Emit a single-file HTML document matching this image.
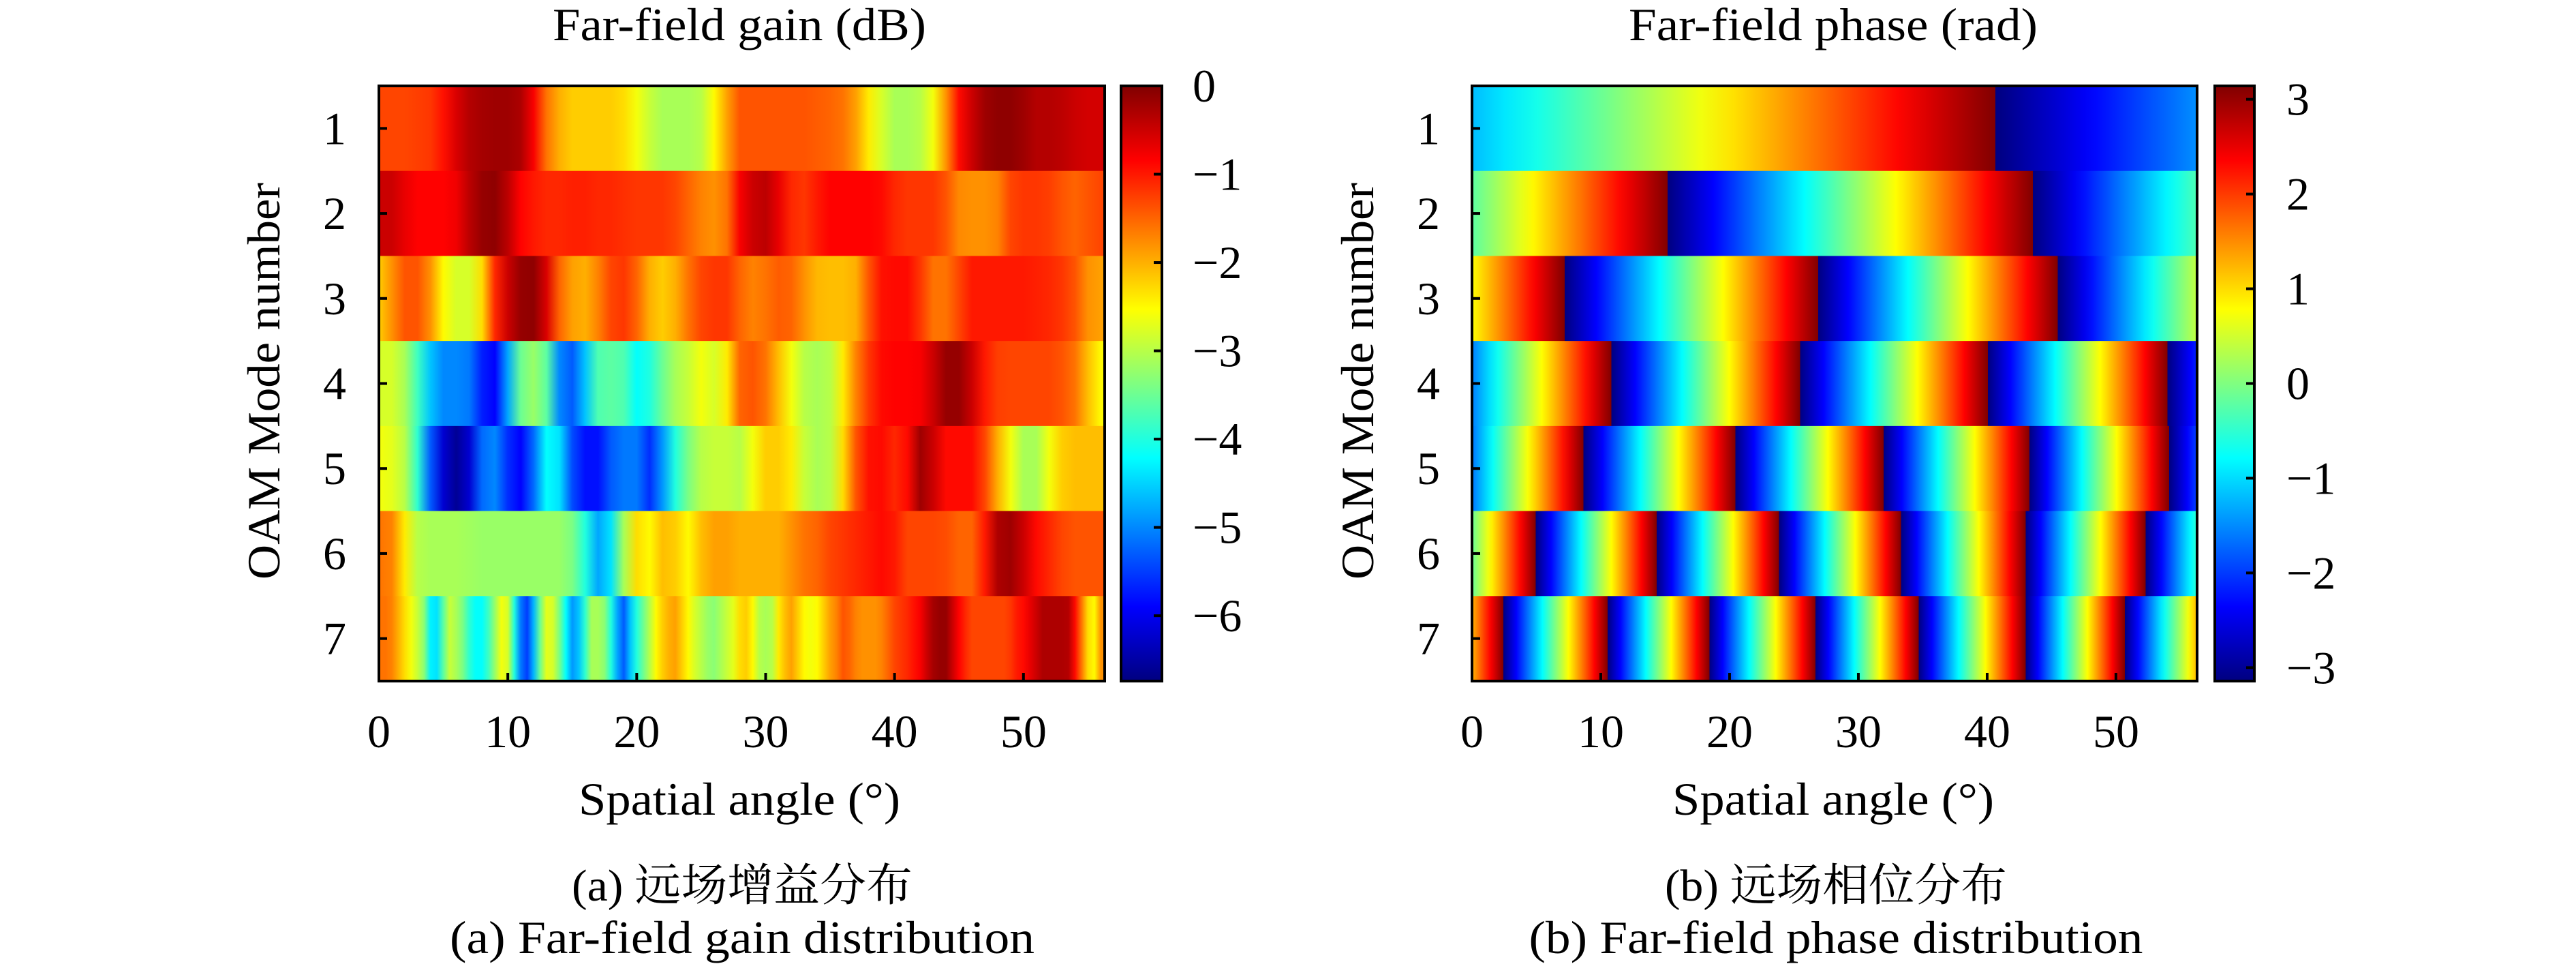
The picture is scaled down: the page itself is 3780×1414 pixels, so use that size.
<!DOCTYPE html>
<html><head><meta charset="utf-8">
<style>
html,body{margin:0;padding:0;background:#fff;}
svg{display:block;}
text{font-family:"Liberation Serif","Noto Serif CJK SC",serif;fill:#000;}
</style></head>
<body>
<svg id="fig" width="3780" height="1414" viewBox="0 0 3780 1414" xmlns="http://www.w3.org/2000/svg">
<defs id="defs"></defs>
<g id="gainPanel"></g>
<g id="phasePanel"></g>
</svg>
<script>
// ---------- data ----------
const modeNumbers = [1,2,3,4,5,6,7];
const xTicks = [0,10,20,30,40,50];
const gainCbarTicks = [0,-1,-2,-3,-4,-5,-6];
const phaseCbarTicks = [3,2,1,0,-1,-2,-3];
const gainRange = [-6.74, 0];
const phaseRange = [-Math.PI, Math.PI];
const angleMax = 56.3;
const gainStep = [1,1,1,1,1,1,0.5];
const gainRow1 = [-1.3,-1.3,-1.3,-1.25,-1.2,-0.95,-0.6,-0.35,-0.25,-0.2,-0.2,-0.3,-0.8,-1.6,-2.0,-2.2,-2.2,-2.2,-2.2,-2.3,-2.6,-2.9,-3.1,-3.1,-3.1,-3.0,-2.5,-1.9,-1.4,-1.4,-1.4,-1.4,-1.4,-1.4,-1.45,-1.5,-1.6,-1.9,-2.4,-2.8,-3.1,-3.1,-3.0,-2.6,-1.8,-0.9,-0.5,-0.2,-0.1,-0.1,-0.2,-0.35,-0.35,-0.4,-0.5,-0.55,-0.55];
const gainRow2 = [-0.5,-0.5,-0.7,-0.85,-0.85,-0.85,-0.75,-0.4,-0.15,-0.1,-0.4,-0.85,-1.0,-1.1,-1.1,-1.05,-1.05,-1.1,-1.1,-1.15,-1.2,-1.2,-1.2,-1.3,-1.5,-1.7,-1.8,-1.6,-0.8,-0.5,-0.4,-0.7,-1.1,-1.2,-1.0,-0.85,-0.85,-0.85,-0.85,-0.9,-1.1,-1.2,-1.2,-1.2,-1.4,-1.75,-1.8,-1.8,-1.7,-1.3,-1.2,-1.2,-1.25,-1.4,-1.5,-1.4,-1.3];
const gainRow3 = [-2.2,-1.8,-1.4,-1.4,-1.8,-2.5,-2.8,-2.8,-2.3,-1.1,-0.5,-0.15,-0.1,-0.6,-1.5,-1.9,-2.0,-1.7,-1.3,-1.2,-1.5,-2.0,-2.2,-2.0,-1.6,-1.3,-1.2,-1.2,-1.5,-1.7,-1.6,-1.45,-1.5,-1.8,-2.05,-2.1,-2.1,-2.0,-1.4,-0.95,-0.9,-0.9,-1.2,-1.6,-1.6,-1.3,-1.0,-1.0,-1.0,-1.0,-1.0,-1.05,-1.1,-1.2,-1.4,-1.8,-1.9];
const gainRow4 = [-2.8,-2.8,-3.1,-3.8,-4.6,-5.0,-5.0,-5.1,-5.7,-5.9,-4.8,-3.5,-3.2,-3.6,-5.0,-5.3,-4.6,-3.7,-3.6,-3.7,-4.2,-4.0,-3.5,-3.1,-2.9,-2.6,-2.8,-2.4,-1.5,-1.4,-1.6,-2.1,-2.6,-3.0,-3.1,-3.0,-2.4,-1.7,-1.2,-0.9,-0.85,-0.85,-0.8,-0.5,-0.15,-0.15,-0.5,-1.0,-1.25,-1.3,-1.3,-1.3,-1.3,-1.4,-1.6,-2.1,-2.5];
const gainRow5 = [-2.6,-2.7,-3.0,-3.9,-5.3,-6.2,-6.6,-6.2,-5.2,-5.0,-5.6,-5.9,-5.2,-4.2,-4.4,-5.4,-5.8,-5.8,-5.3,-5.1,-5.1,-5.6,-4.9,-4.0,-3.4,-3.0,-2.9,-2.9,-3.0,-2.6,-2.2,-2.2,-2.4,-2.9,-3.1,-3.0,-2.3,-1.4,-0.95,-0.9,-1.1,-0.9,-0.2,-0.5,-0.9,-0.9,-0.9,-1.3,-2.0,-2.6,-3.1,-3.1,-2.6,-2.2,-2.1,-2.1,-2.1];
const gainRow6 = [-1.6,-1.7,-2.4,-3.0,-3.1,-3.1,-3.1,-3.15,-3.2,-3.2,-3.2,-3.2,-3.2,-3.2,-3.2,-3.4,-4.0,-4.8,-4.4,-3.1,-2.3,-2.5,-2.1,-2.2,-2.5,-2.1,-1.9,-1.9,-2.0,-2.0,-2.0,-2.0,-1.8,-1.6,-1.5,-1.3,-1.2,-1.1,-1.0,-0.9,-1.0,-1.3,-1.3,-1.3,-1.35,-1.5,-1.5,-1.0,-0.3,-0.2,-0.5,-0.9,-1.1,-1.3,-1.4,-1.4,-1.4];
const gainRow7 = [-1.6,-1.6,-1.7,-2.0,-2.3,-2.6,-2.9,-3.3,-4.3,-4.4,-3.6,-2.9,-3.1,-3.4,-3.9,-4.2,-4.2,-3.8,-3.2,-2.6,-2.8,-4.0,-5.1,-5.5,-4.7,-3.5,-2.7,-2.8,-3.4,-4.2,-4.9,-4.6,-3.9,-3.1,-3.1,-3.3,-4.0,-4.8,-5.3,-4.6,-4.0,-3.5,-3.0,-2.5,-2.2,-2.0,-1.9,-2.2,-2.5,-2.8,-3.0,-3.2,-3.3,-3.1,-2.9,-2.7,-2.3,-2.2,-2.5,-3.0,-3.1,-3.0,-2.4,-2.1,-1.9,-2.2,-2.5,-2.6,-2.5,-2.2,-1.9,-1.7,-1.4,-1.5,-1.7,-1.8,-1.8,-1.8,-1.7,-1.5,-1.3,-1.2,-1.1,-0.95,-0.8,-0.5,-0.25,-0.15,-0.15,-0.5,-0.85,-1.1,-1.3,-1.3,-1.3,-1.3,-1.3,-1.3,-1.2,-1.0,-0.9,-0.7,-0.5,-0.3,-0.3,-0.3,-0.3,-0.35,-0.9,-1.6,-2.3,-2.5,-1.8];
const gainRows = [gainRow1,gainRow2,gainRow3,gainRow4,gainRow5,gainRow6,gainRow7];
// phase: starting phase (rad) at 0 deg and angles (deg) where phase wraps from +pi to -pi
const phaseStart = [-1.2,-0.225,0.775,-1.58,-1.64,-0.15,1.24];
const phaseWraps1 = [40.65];
const phaseWraps2 = [15.19,43.54];
const phaseWraps3 = [7.19,26.88,45.47];
const phaseWraps4 = [10.83,25.47,40.05,54.0];
const phaseWraps5 = [8.66,20.45,31.95,43.29,54.13];
const phaseWraps6 = [4.96,14.33,23.85,33.31,42.98,52.3];
const phaseWraps7 = [2.43,10.53,18.43,26.68,34.68,42.98,50.68];
const phaseWraps = [phaseWraps1,phaseWraps2,phaseWraps3,phaseWraps4,phaseWraps5,phaseWraps6,phaseWraps7];

// ---------- helpers ----------
const NS = 'http://www.w3.org/2000/svg';
const defs = document.getElementById('defs');
function el(tag, attrs, parent){const e=document.createElementNS(NS,tag);for(const k in attrs)e.setAttribute(k,attrs[k]);if(parent)parent.appendChild(e);return e;}
function clamp(v){return Math.max(0,Math.min(1,v));}
function jet(t){t=clamp(t);const r=clamp(1.5-Math.abs(4*t-3)),g=clamp(1.5-Math.abs(4*t-2)),b=clamp(1.5-Math.abs(4*t-1));
 return 'rgb('+Math.round(r*255)+','+Math.round(g*255)+','+Math.round(b*255)+')';}
function txt(parent,x,y,s,anchor,size,len){const t=el('text',{x:x,y:y,'text-anchor':anchor||'middle','font-size':size||66},parent);
 if(len){t.setAttribute('textLength',len);t.setAttribute('lengthAdjust','spacingAndGlyphs');}
 t.textContent=s;return t;}

function drawPanel(g, P){
 const rowH=(P.y1-P.y0)/modeNumbers.length;
 const xs=a=>P.x0+(a/angleMax)*(P.x1-P.x0);
 P.rows.forEach((stops,i)=>{
  const id=P.id+'grad'+i;
  const lg=el('linearGradient',{id:id,gradientUnits:'userSpaceOnUse',x1:P.x0,y1:0,x2:P.x1,y2:0},defs);
  stops.forEach(s=>el('stop',{offset:clamp(s[0]/angleMax),'stop-color':jet((s[1]-P.range[0])/(P.range[1]-P.range[0]))},lg));
  const r=el('rect',{x:P.x0,y:P.y0+i*rowH,width:P.x1-P.x0,height:rowH+0.6,fill:'url(#'+id+')'},g);
  
  
 });
 const ax=el('g',{},g);
 
 
 el('rect',{x:P.x0,y:P.y0,width:P.x1-P.x0,height:P.y1-P.y0,fill:'none',stroke:'#000','stroke-width':4},ax);
 modeNumbers.forEach((m,i)=>{const y=P.y0+(i+0.5)*rowH;
  el('line',{x1:P.x0,y1:y,x2:P.x0+12,y2:y,stroke:'#000','stroke-width':4},ax);
  const t=txt(ax,P.ylx,y+23,String(m),'middle',68);
  
  });
 xTicks.forEach(v=>{const x=xs(v);
  el('line',{x1:x,y1:P.y1,x2:x,y2:P.y1-12,stroke:'#000','stroke-width':4},ax);
  const t=txt(ax,x,1096,String(v),'middle',68);
  
  });
 // colorbar
 const cid=P.id+'cbar';
 const cg=el('linearGradient',{id:cid,x1:0,y1:1,x2:0,y2:0},defs);
 for(let k=0;k<=8;k++)el('stop',{offset:k/8,'stop-color':jet(k/8)},cg);
 const cb=el('g',{},g);
 
 
 el('rect',{x:P.cx0,y:P.y0,width:P.cx1-P.cx0,height:P.y1-P.y0,fill:'url(#'+cid+')',stroke:'#000','stroke-width':4},cb);
 const cy=v=>P.y1-(v-P.range[0])/(P.range[1]-P.range[0])*(P.y1-P.y0);
 P.cticks.forEach(v=>{const y=cy(v);
  el('line',{x1:P.cx1-12,y1:y,x2:P.cx1,y2:y,stroke:'#000','stroke-width':4},cb);
  const t=txt(cb,P.clx,y+23,(v<0?'\u2212':'')+Math.abs(v),'start',68);
  
  });
 const ttl=txt(g,P.tx,59,P.title,'middle',68,P.titleLen);
 
 
 const xl=txt(g,P.tx,1195,'Spatial angle (\u00B0)','middle',68,472);
 
 
 const yl=txt(g,0,0,'OAM Mode number','middle',68,582);
 yl.setAttribute('transform','translate('+P.ytx+',559) rotate(-90)');
 
 
 const c1=txt(g,P.capx,1321,P.cap1,'middle',66,P.cap1Len);
 
 
 const c2=txt(g,P.capx,1398,P.cap2,'middle',68,P.cap2Len);
 
 
}

// gain stops
const gainStops = gainRows.map((row,i)=>row.map((v,k)=>[k*gainStep[i],v]));
// phase stops: linear phase, wrapping at listed angles
const phaseStops = phaseWraps.map((w,i)=>{
 const s0=phaseStart[i];
 const slope = w.length>1 ? 2*Math.PI/((w[w.length-1]-w[0])/(w.length-1)) : (Math.PI-s0)/w[0];
 const bounds=[0].concat(w).concat([angleMax]);
 const out=[];
 for(let j=0;j<bounds.length-1;j++){
  const a0=bounds[j],a1=bounds[j+1];
  const p0 = j===0 ? s0 : -Math.PI;
  const p1 = j<bounds.length-2 ? Math.PI : p0+slope*(a1-a0);
  const n=16;
  for(let k=0;k<=n;k++){const a=a0+(a1-a0)*k/n;out.push([a,p0+(p1-p0)*k/n]);}
 }
 return out;
});

drawPanel(document.getElementById('gainPanel'),{id:'g',x0:556,x1:1621,y0:126,y1:999,cx0:1645,cx1:1705,
 rows:gainStops,range:gainRange,cticks:gainCbarTicks,ylx:491,clx:1750,tx:1085,ytx:410,capx:1089,
 title:'Far-field gain (dB)',titleLen:548,cap1:'(a) \u8FDC\u573A\u589E\u76CA\u5206\u5E03',cap1Len:500,cap2:'(a) Far-field gain distribution',cap2Len:858});
drawPanel(document.getElementById('phasePanel'),{id:'p',x0:2160,x1:3224,y0:126,y1:999,cx0:3250,cx1:3308,
 rows:phaseStops,range:phaseRange,cticks:phaseCbarTicks,ylx:2096,clx:3355,tx:2690,ytx:2015,capx:2694,
 title:'Far-field phase (rad)',titleLen:600,cap1:'(b) \u8FDC\u573A\u76F8\u4F4D\u5206\u5E03',cap1Len:502,cap2:'(b) Far-field phase distribution',cap2Len:901});
</script>
</body></html>
